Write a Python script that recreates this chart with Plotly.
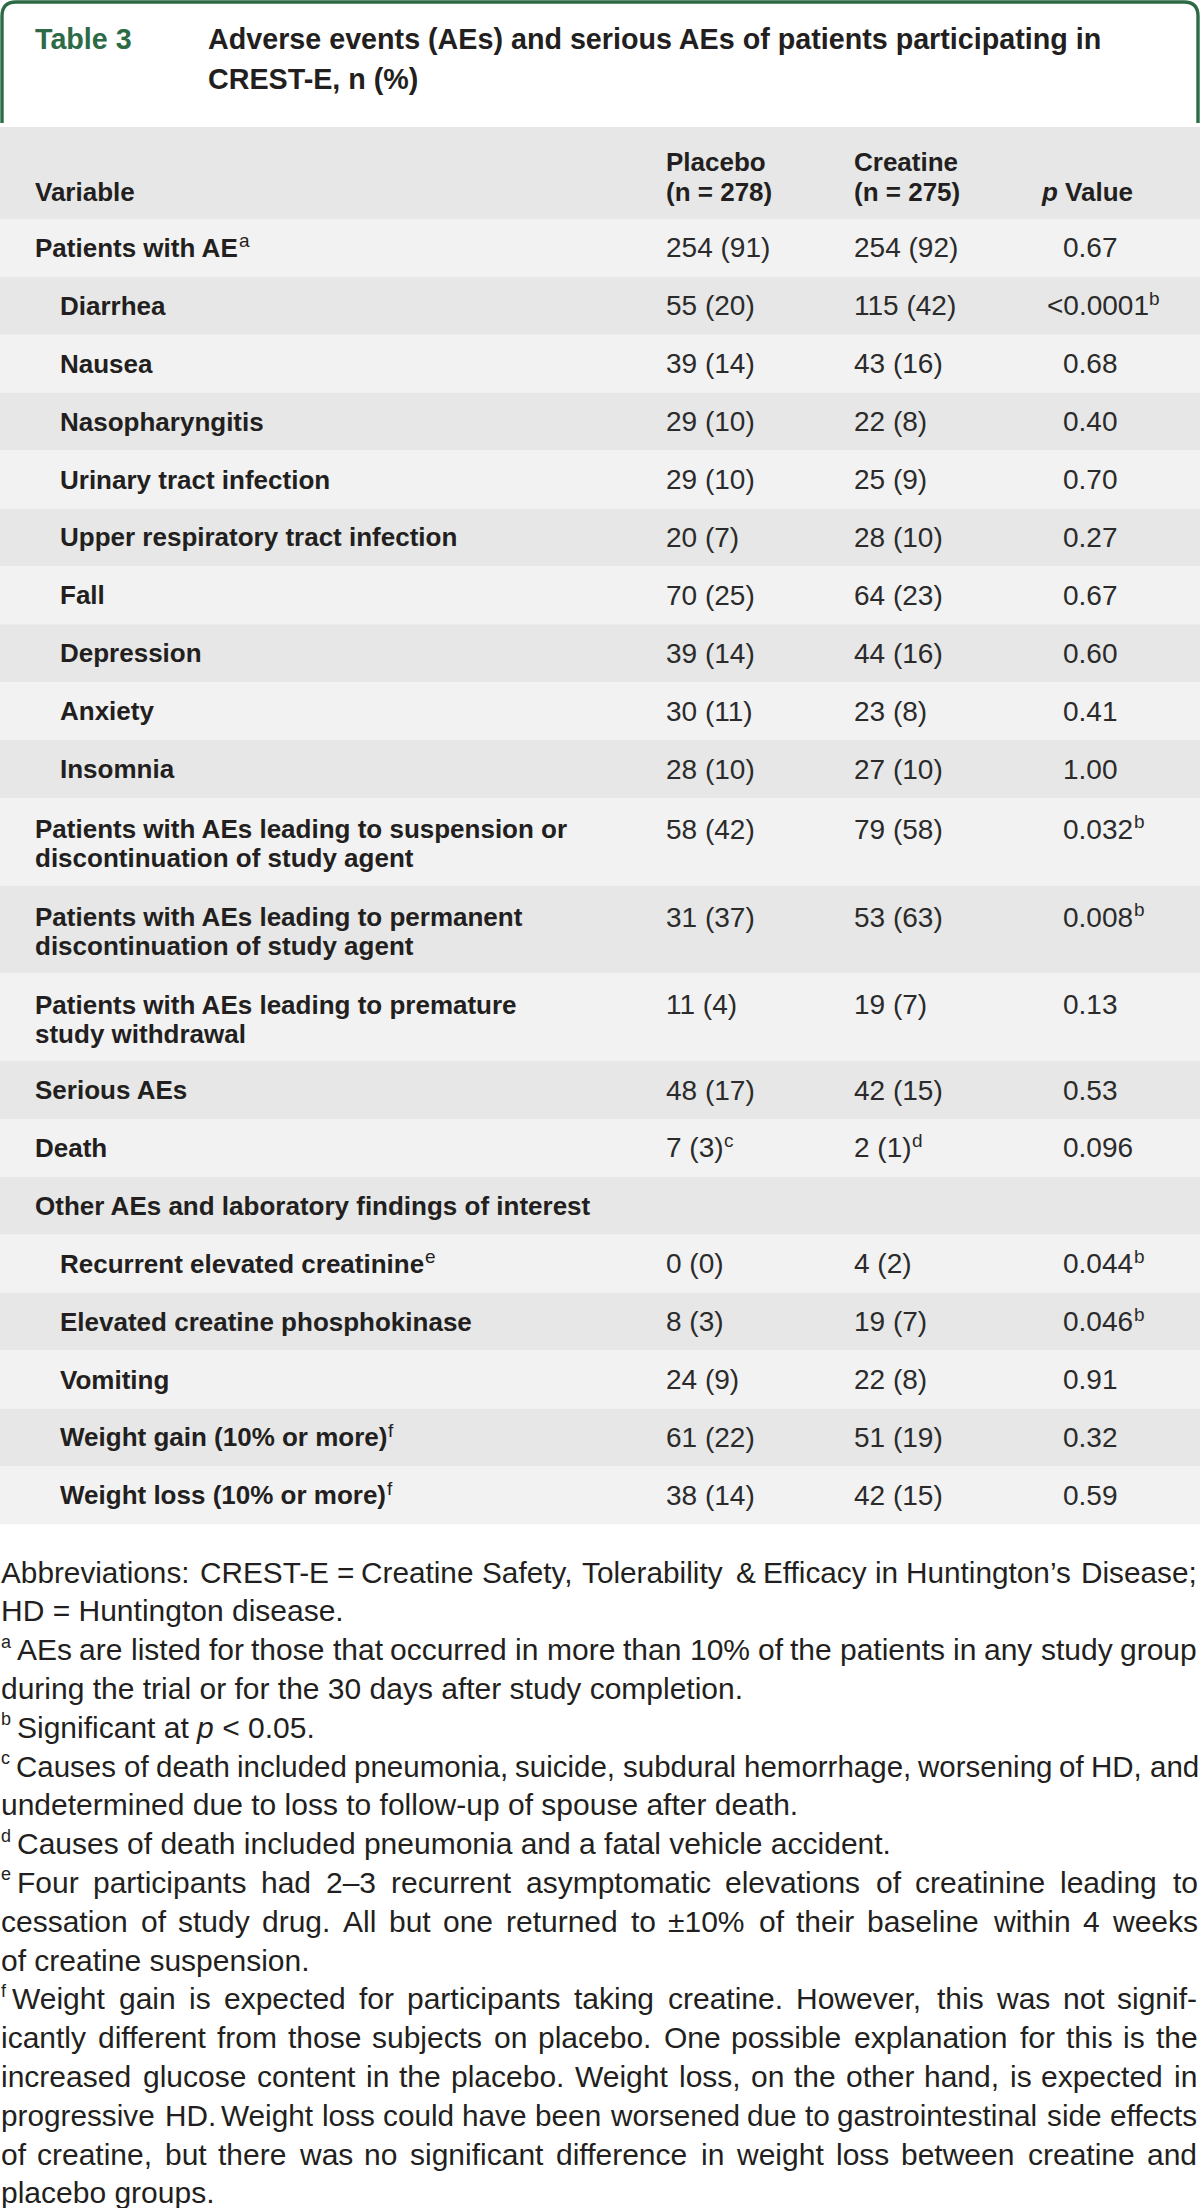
import re
import html
import plotly.graph_objects as go

# ---------------- data ----------------
table_label = "Table 3"
title_lines = ["Adverse events (AEs) and serious AEs of patients participating in",
               "CREST-E, n (%)"]
col_headers = ["Variable", "Placebo<br>(n = 278)", "Creatine<br>(n = 275)", "<i>p</i> Value"]

variables = [
    "Patients with AE<sup>a</sup>",
    "Diarrhea", "Nausea", "Nasopharyngitis", "Urinary tract infection",
    "Upper respiratory tract infection", "Fall", "Depression", "Anxiety", "Insomnia",
    "Patients with AEs leading to suspension or<br>discontinuation of study agent",
    "Patients with AEs leading to permanent<br>discontinuation of study agent",
    "Patients with AEs leading to premature<br>study withdrawal",
    "Serious AEs", "Death", "Other AEs and laboratory findings of interest",
    "Recurrent elevated creatinine<sup>e</sup>", "Elevated creatine phosphokinase",
    "Vomiting", "Weight gain (10% or more)<sup>f</sup>", "Weight loss (10% or more)<sup>f</sup>",
]
level = [0, 1, 1, 1, 1, 1, 1, 1, 1, 1, 0, 0, 0, 0, 0, 0, 1, 1, 1, 1, 1]
placebo = ["254 (91)", "55 (20)", "39 (14)", "29 (10)", "29 (10)", "20 (7)", "70 (25)",
           "39 (14)", "30 (11)", "28 (10)", "58 (42)", "31 (37)", "11 (4)", "48 (17)",
           "7 (3)<sup>c</sup>", "", "0 (0)", "8 (3)", "24 (9)", "61 (22)", "38 (14)"]
creatine = ["254 (92)", "115 (42)", "43 (16)", "22 (8)", "25 (9)", "28 (10)", "64 (23)",
            "44 (16)", "23 (8)", "27 (10)", "79 (58)", "53 (63)", "19 (7)", "42 (15)",
            "2 (1)<sup>d</sup>", "", "4 (2)", "19 (7)", "22 (8)", "51 (19)", "42 (15)"]
p_values = ["0.67", "&lt;0.0001<sup>b</sup>", "0.68", "0.40", "0.70", "0.27", "0.67",
            "0.60", "0.41", "1.00", "0.032<sup>b</sup>", "0.008<sup>b</sup>", "0.13",
            "0.53", "0.096", "", "0.044<sup>b</sup>", "0.046<sup>b</sup>", "0.91",
            "0.32", "0.59"]

footnote_markers = ["", "", "a", "", "b", "c", "", "d", "e", "", "", "f", "", "", "", "", ""]
footnote_lines = [
    "Abbreviations: CREST-E = Creatine Safety, Tolerability &amp; Efficacy in Huntington\u2019s Disease;",
    "HD = Huntington disease.",
    "AEs are listed for those that occurred in more than 10% of the patients in any study group",
    "during the trial or for the 30 days after study completion.",
    "Significant at <i>p</i> &lt; 0.05.",
    "Causes of death included pneumonia, suicide, subdural hemorrhage, worsening of HD, and",
    "undetermined due to loss to follow-up of spouse after death.",
    "Causes of death included pneumonia and a fatal vehicle accident.",
    "Four participants had 2\u20133 recurrent asymptomatic elevations of creatinine leading to",
    "cessation of study drug. All but one returned to \u00b110% of their baseline within 4 weeks",
    "of creatine suspension.",
    "Weight gain is expected for participants taking creatine. However, this was not signif-",
    "icantly different from those subjects on placebo. One possible explanation for this is the",
    "increased glucose content in the placebo. Weight loss, on the other hand, is expected in",
    "progressive HD. Weight loss could have been worsened due to gastrointestinal side effects",
    "of creatine, but there was no significant difference in weight loss between creatine and",
    "placebo groups.",
]
footnote_justified = [True, False, True, False, False, True, False, False, True, True, False,
                      True, True, True, True, True, False]

# ---------------- styling ----------------
FONT = "Liberation Sans, Arial, sans-serif"
GREEN = "#2d6b47"
TXT = "#231f20"
NUM = "#2b2b2b"
LIGHT = "#f2f2f2"
DARK = "#e6e7e6"

# Arial / Liberation Sans advance widths, per 1000 em
COMMON = {' ': 278, '\u00a0': 278, '!': 278, '"': 355, '#': 556, '$': 556, '%': 889,
          '&': 667, "'": 191, '(': 333, ')': 333, '*': 389, '+': 584, ',': 278, '-': 333,
          '.': 278, '/': 278, ':': 278, ';': 278, '<': 584, '=': 584, '>': 584, '?': 556,
          '\u2019': 222, '\u2013': 556, '\u00b1': 584}
for d in "0123456789":
    COMMON[d] = 556
AW = dict(COMMON)
AW.update(dict(zip("ABCDEFGHIJKLMNOPQRSTUVWXYZ",
                   [667, 667, 722, 722, 667, 611, 778, 722, 278, 500, 667, 556, 833, 722,
                    778, 667, 778, 722, 667, 611, 722, 667, 944, 667, 667, 611])))
AW.update(dict(zip("abcdefghijklmnopqrstuvwxyz",
                   [556, 556, 500, 556, 556, 278, 556, 556, 222, 222, 500, 222, 833, 556,
                    556, 556, 556, 333, 500, 278, 556, 500, 722, 500, 500, 500])))
BW = dict(COMMON)
BW.update({':': 333, ';': 333})
BW.update(dict(zip("ABCDEFGHIJKLMNOPQRSTUVWXYZ",
                   [722, 722, 722, 722, 667, 611, 778, 722, 278, 556, 722, 611, 833, 722,
                    778, 667, 778, 722, 667, 611, 722, 667, 944, 667, 667, 611])))
BW.update(dict(zip("abcdefghijklmnopqrstuvwxyz",
                   [556, 611, 556, 611, 556, 333, 611, 611, 278, 278, 556, 278, 889, 611,
                    611, 611, 611, 389, 556, 333, 611, 556, 778, 556, 556, 500])))


def text_width(s, fs, bold=False, rounded=False):
    """Approximate rendered width of a label from the font's advance widths."""
    table = BW if bold else AW
    plain = html.unescape(re.sub(r'<[^>]+>', '', s))
    if rounded:
        return float(sum(round(table.get(ch, 556) * fs / 1000.0) for ch in plain))
    return sum(table.get(ch, 556) for ch in plain) * fs / 1000.0


fig = go.Figure()
shapes = []
ann = []


def add_text(x, y, text, size, color=TXT, bold=False, xanchor="left"):
    ann.append(dict(x=x, y=y, xref="x", yref="y", text=text, showarrow=False,
                    xanchor=xanchor, yanchor="middle", borderpad=0, borderwidth=0,
                    font=dict(family=FONT, size=size, color=color,
                              weight=700 if bold else 400)))


def add_rich(x, y, s, size, color=TXT, bold=False, sup_size=None):
    """Text with an optional trailing superscript drawn as its own small label."""
    m = re.match(r'^(.*?)<sup>(.*?)</sup>$', s)
    if not m:
        add_text(x, y, s, size, color, bold)
        return
    base, sup = m.group(1), m.group(2)
    add_text(x, y, base, size, color, bold)
    sx = x + text_width(base, size, bold) + 0.5
    add_text(sx, y - 0.27 * size, sup, sup_size or round(size * 0.7), color, False)


# header box
r = 14
x0, x1, yt, yb = 2, 1198, 2, 123
shapes.append(dict(type="path", xref="x", yref="y",
                   path=f"M {x0},{yb} L {x0},{yt + r} Q {x0},{yt} {x0 + r},{yt} "
                        f"L {x1 - r},{yt} Q {x1},{yt} {x1},{yt + r} L {x1},{yb}",
                   line=dict(color=GREEN, width=3.4), fillcolor="rgba(0,0,0,0)"))
add_text(35, 39, table_label, 28.7, color=GREEN, bold=True)
add_text(208, 39, title_lines[0], 28.7, bold=True)
add_text(208, 79, title_lines[1], 28.7, bold=True)

# column header band
HEAD_TOP, HEAD_BOT = 127, 219
shapes.append(dict(type="rect", xref="x", yref="y", x0=0, x1=1200, y0=HEAD_TOP, y1=HEAD_BOT,
                   fillcolor=DARK, line=dict(width=0), layer="below"))
COLX = [35, 666, 854, 1041]
for cx, h in zip(COLX, col_headers):
    parts = h.split("<br>")
    if len(parts) == 1:
        add_text(cx, 192, parts[0], 26, bold=True)
    else:
        add_text(cx, 162, parts[0], 26, bold=True)
        add_text(cx, 192, parts[1], 26, bold=True)

# body rows
SINGLE, DOUBLE = 57.9, 87.7
PX = 1063
top = HEAD_BOT
for i, lab in enumerate(variables):
    lines = lab.split("<br>")
    h = SINGLE if len(lines) == 1 else DOUBLE
    shapes.append(dict(type="rect", xref="x", yref="y", x0=0, x1=1200, y0=top, y1=top + h,
                       fillcolor=LIGHT if i % 2 == 0 else DARK, line=dict(width=0),
                       layer="below"))
    if len(lines) == 1:
        ys = [top + h / 2]
    else:
        c = top + h / 2 + 2
        ys = [c - 14.5, c + 14.5]
    lx = 35 + 25 * level[i]
    for ln, yy in zip(lines, ys):
        add_rich(lx, yy, ln, 26, bold=True, sup_size=19)
    if placebo[i]:
        add_rich(666, ys[0], placebo[i], 28, color=NUM, sup_size=19)
    if creatine[i]:
        add_rich(854, ys[0], creatine[i], 28, color=NUM, sup_size=19)
    if p_values[i]:
        pv = p_values[i]
        x = PX
        if pv.startswith("&lt;"):
            x -= text_width("<", 28)
        add_rich(x, ys[0], pv, 28, color=NUM, sup_size=19)
    top += h

# footnotes
FN_SIZE = 30
FN_SUP = 18
FN_MIN_GAP = 6.5
FN_Y0, FN_DY = 1572, 38.8
FN_L, FN_R = 1, 1198
for k, (mk, line, justify) in enumerate(zip(footnote_markers, footnote_lines,
                                            footnote_justified)):
    y = FN_Y0 + k * FN_DY
    xs = FN_L
    if mk:
        add_text(FN_L, y - 0.27 * FN_SIZE, mk, FN_SUP, color=TXT)
        xs = FN_L + text_width(mk, FN_SUP) + 6
    if not justify:
        add_text(xs, y, line, FN_SIZE, color=TXT)
        continue
    words = line.split(" ")
    fs = FN_SIZE
    while True:
        widths = [text_width(w, fs, rounded=True) for w in words]
        gap = (FN_R - xs - sum(widths)) / (len(words) - 1)
        if gap >= FN_MIN_GAP or fs <= 27:
            break
        fs -= 0.25
    x = xs
    for w, wd in zip(words, widths):
        add_text(x, y, w, fs, color=TXT)
        x += wd + gap

fig.update_layout(
    width=1200, height=2208,
    margin=dict(l=0, r=0, t=0, b=0),
    paper_bgcolor="white", plot_bgcolor="white",
    xaxis=dict(range=[0, 1200], visible=False, fixedrange=True),
    yaxis=dict(range=[2208, 0], visible=False, fixedrange=True),
    shapes=shapes, annotations=ann, showlegend=False,
)

fig.write_html("out.html", config={"displayModeBar": False},
               post_script="document.body.style.margin='0';")
